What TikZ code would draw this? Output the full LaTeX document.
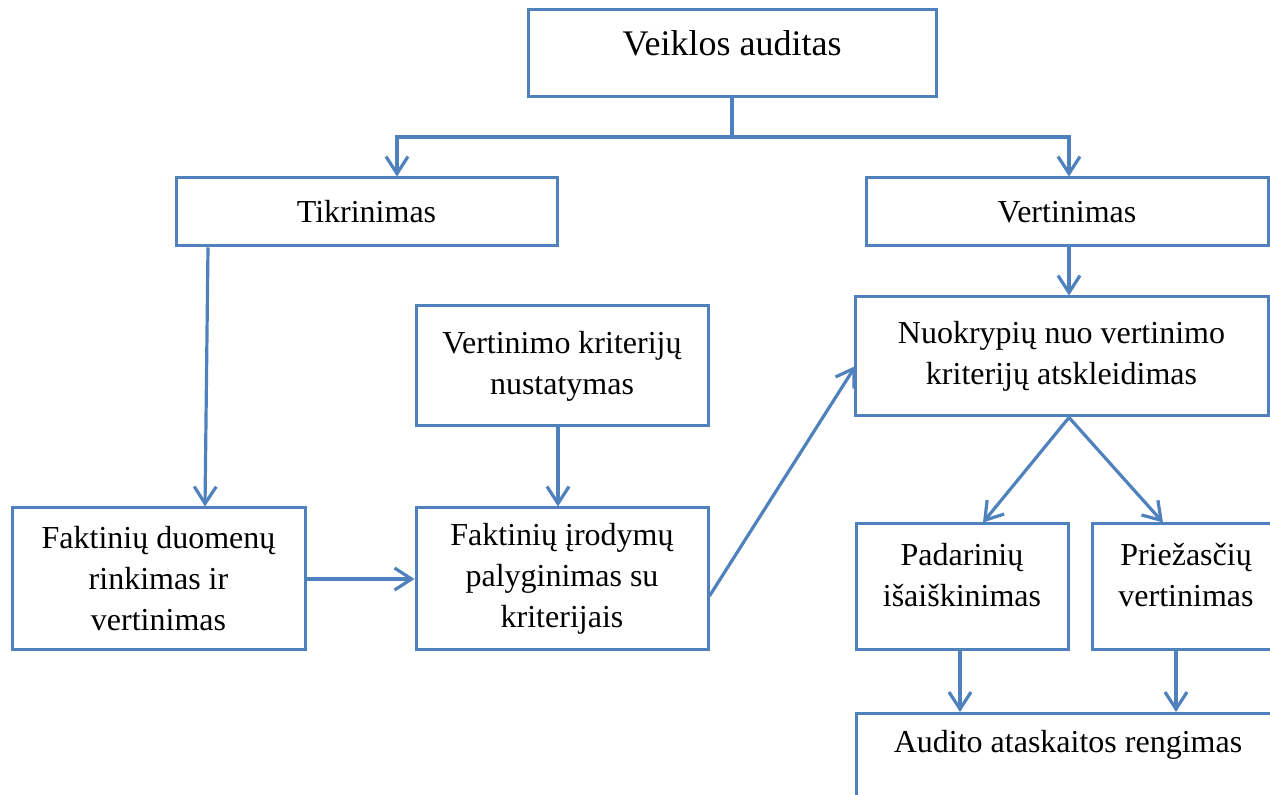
\documentclass[tikz,border=0pt]{standalone}
\usepackage{fontspec}
\setmainfont{Liberation Serif}
\usetikzlibrary{arrows.meta,calc}
\definecolor{boxblue}{RGB}{79,129,189}
\begin{document}
\begin{tikzpicture}[x=0.5pt,y=-0.5pt,
	box/.style={draw=boxblue, line width=1.5pt, inner sep=0pt, align=center,
		font=\fontsize{16}{20.5}\selectfont},
	link/.style={draw=boxblue, line width=1.6pt,
		-{Straight Barb[length=8.5pt,width=11pt]}}]
	%\draw[help lines] (0,0) grid (1270,795);
	\useasboundingbox (0,0) rectangle (1270,795);
	
	\node[box, minimum width=204pt, minimum height=43.5pt, text depth=10pt,
		font=\fontsize{18}{22}\selectfont] (top) at (732,53.5) {Veiklos auditas};
	\node[box, minimum width=190.5pt, minimum height=34pt] (tik) at (366.5,212) {Tikrinimas};
	\node[box, minimum width=201pt, minimum height=34pt] (ver) at (1067,212) {Vertinimas};
	\node[box, minimum width=206.5pt, minimum height=59.5pt] (nuo) at (1061.5,356.5)
		{Nuokrypių nuo vertinimo\\kriterijų atskleidimas};
	\node[box, minimum width=146pt, minimum height=60pt] (krit) at (562,366)
		{Vertinimo kriterijų\\nustatymas};
	\node[box, minimum width=146.5pt, minimum height=71pt] (dom) at (158.5,579)
		{Faktinių duomenų\\rinkimas ir\\vertinimas};
	\node[box, minimum width=146pt, minimum height=71pt] (fir) at (562,579)
		{Faktinių įrodymų\\palyginimas su\\kriterijais};
	\node[box, minimum width=106pt, minimum height=63pt, text depth=12.5pt] (pad) at (962,587)
		{Padarinių\\išaiškinimas};
	\node[box, minimum width=94pt, minimum height=63pt, text depth=12.5pt] (pri) at (1186,587)
		{Priežasčių\\vertinimas};
	\node[box, anchor=north, minimum width=212pt, inner ysep=8.5pt, text depth=40pt] (aud)
		at (1068,712) {Audito ataskaitos rengimas};
	
	\coordinate (fork) at (732,137);
	\draw[link, -] (top) -- (fork);
	\draw[link] (fork) -| ($(tik.north)+(30.5,0)$);
	\draw[link] (fork) -| ($(ver.north)+(2,0)$);
	\draw[link] ($(tik.south)+(-158.5,0)$) -- ($(dom.north)+(46.5,0)$);
	\draw[link] ($(ver.south)+(2,0)$) -- ($(ver.south |- nuo.north)+(2,0)$);
	\draw[link] ($(krit.south)+(-4,0)$) -- ($(fir.north)+(-4,0)$);
	\draw[link] (dom) -- (fir);
	\draw[link] ($(fir.east)+(0,17)$) -- ($(nuo.west)+(2,9.5)$);
	\foreach \n/\dx in {pad/21,pri/-23}
		\draw[link] ($(nuo.south)+(7.5,0)$) -- ($(\n.north)+(\dx,0)$);
	\foreach \n/\dx in {pad/-2,pri/-10}
		\draw[link] ($(\n.south)+(\dx,0)$) -- ($(\n.south |- aud.north)+(\dx,0)$);
\end{tikzpicture}
\end{document}
